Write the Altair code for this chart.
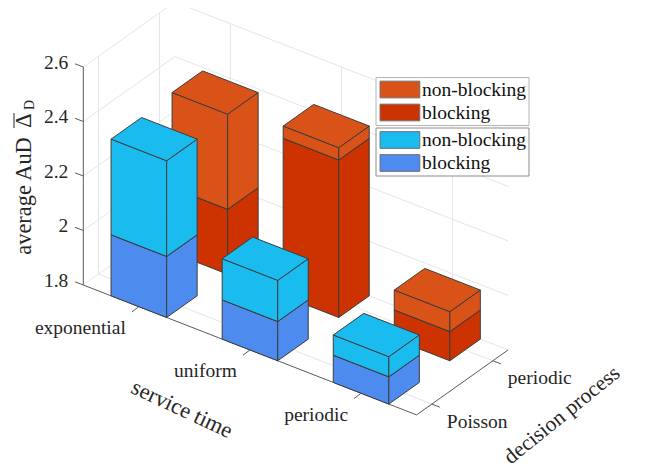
import altair as alt
import pandas as pd

service_times = ["exponential", "uniform", "periodic"]
decision_processes = ["Poisson", "periodic"]
z_ticks = [1.8, 2.0, 2.2, 2.4, 2.6]
z_tick_labels = ["1.8", "2", "2.2", "2.4", "2.6"]
blocking_poisson = [2.024, 1.944, 1.900]
total_poisson = [2.375, 2.095, 1.974]
blocking_periodic = [2.038, 2.378, 1.907]
total_periodic = [2.387, 2.423, 1.980]

Z0 = 1.8
FONT = "Liberation Serif"
EDGE = "#3c3c3c"
AXIS = "#5a5a5a"
GRID = "#e6e6e6"
TEXT = "#262626"
X_LIM = (0.5, 3.5)
Y_LIM = (0.75, 2.25)
BAR_HALF = 0.25


def proj(x, y, z):
    """Oblique projection of the 3-D axes box onto picture coordinates."""
    return (
        83.3 + (x - X_LIM[0]) * 111.1 + (y - Y_LIM[0]) * 61.0,
        285.0 + (x - X_LIM[0]) * 43.3 - (y - Y_LIM[0]) * 43.3 - (z - Z0) * 272.5,
    )


x_scale = alt.Scale(domain=[8, 637], range=[0, 629], nice=False, zero=False)
y_scale = alt.Scale(domain=[470, 8], range=[462, 0], nice=False, zero=False)
X = alt.X("px:Q", scale=x_scale, axis=None, title=None)
Y = alt.Y("py:Q", scale=y_scale, axis=None, title=None)


def segs(pairs):
    rows = []
    for i, (a, b) in enumerate(pairs):
        for j, p in enumerate((a, b)):
            rows.append({"id": i, "k": j, "px": p[0], "py": p[1]})
    return pd.DataFrame(rows)


def lines(pairs, color, width=1.0):
    return alt.Chart(segs(pairs)).mark_line(
        stroke=color, strokeWidth=width, clip=False
    ).encode(x=X, y=Y, detail="id:N", order="k:Q")


x0, x1 = X_LIM
y0, y1 = Y_LIM
z0, z1 = z_ticks[0], z_ticks[-1]
grid = []
for z in z_ticks:
    grid.append((proj(x0, y0, z), proj(x0, y1, z)))
    grid.append((proj(x0, y1, z), proj(x1, y1, z)))
for y in (1, 2):
    grid.append((proj(x0, y, z0), proj(x0, y, z1)))
    grid.append((proj(x0, y, z0), proj(x1, y, z0)))
for x in (1, 2, 3):
    grid.append((proj(x, y1, z0), proj(x, y1, z1)))
    grid.append((proj(x, y0, z0), proj(x, y1, z0)))

axes = [
    (proj(x0, y0, z0), proj(x0, y0, z1)),
    (proj(x0, y0, z0), proj(x1, y0, z0)),
    (proj(x1, y0, z0), proj(x1, y1, z0)),
]
for z in z_ticks:
    p = proj(x0, y0, z)
    axes.append((p, (p[0] - 8.3, p[1] - 3.2)))
for x in (1, 2, 3):
    p = proj(x, y0, z0)
    axes.append((p, (p[0] - 7.0, p[1] + 5.3)))
for y in (1, 2):
    p = proj(x1, y, z0)
    axes.append((p, (p[0] + 8.0, p[1] + 3.1)))


def bar_rows(xc, yc, lo, hi, series, start):
    xa, xb = xc - BAR_HALF, xc + BAR_HALF
    ya, yb = yc - BAR_HALF, yc + BAR_HALF
    faces = [
        [(xa, ya, lo), (xb, ya, lo), (xb, ya, hi), (xa, ya, hi)],
        [(xb, ya, lo), (xb, yb, lo), (xb, yb, hi), (xb, ya, hi)],
        [(xa, ya, hi), (xb, ya, hi), (xb, yb, hi), (xa, yb, hi)],
    ]
    rows = []
    for f, face in enumerate(faces):
        for k, v in enumerate(face + face[:1]):
            p = proj(*v)
            rows.append({"poly": start + f, "k": k, "px": p[0], "py": p[1], "series": series})
    return rows


def row_rows(yc, blocking, total):
    rows = []
    n = 0
    for i in range(3):
        rows += bar_rows(i + 1, yc, Z0, blocking[i], "blocking", n)
        rows += bar_rows(i + 1, yc, blocking[i], total[i], "non-blocking", n + 3)
        n += 6
    return pd.DataFrame(rows)


def bars(df, colors, lx, ly, box):
    return alt.Chart(df).mark_line(
        stroke=EDGE, strokeWidth=1, strokeJoin="miter", clip=False
    ).encode(
        x=X, y=Y, detail="poly:N", order="k:Q",
        fill=alt.Fill(
            "series:N",
            scale=alt.Scale(domain=["non-blocking", "blocking"], range=colors),
            legend=alt.Legend(
                title=None, orient="none", legendX=lx, legendY=ly,
                symbolType="M-0.8,-0.84H3.2V0.84H-0.8Z", symbolSize=395,
                symbolStrokeColor="#6e6e6e", symbolStrokeWidth=1, symbolOpacity=1,
                labelFont=FONT, labelFontSize=19.5, labelColor="#111111", labelOffset=23.5,
                labelExpr="datum.label + '\u2009'",
                labelLimit=200, rowPadding=2, padding=2,
                fillColor="white", strokeColor=box,
            ),
        ),
    )


def text(rows, align="center", angle=0, size=19.5):
    return alt.Chart(pd.DataFrame(rows)).mark_text(
        font=FONT, fontSize=size, color=TEXT, align=align, baseline="middle", angle=angle
    ).encode(x=X, y=Y, text="t:N")


z_labels = [
    {"t": t, "px": proj(x0, y0, z)[0] - 15, "py": proj(x0, y0, z)[1] - 4.5}
    for t, z in zip(z_tick_labels, z_ticks)
]
x_labels = [
    {"t": t, "px": proj(i + 1, y0, z0)[0] - 13, "py": proj(i + 1, y0, z0)[1] + 21.5}
    for i, t in enumerate(service_times)
]
y_labels = [
    {"t": t, "px": proj(x1, i + 1, z0)[0] + 15, "py": proj(x1, i + 1, z0)[1] + 17.5}
    for i, t in enumerate(decision_processes)
]

red = row_rows(2, blocking_periodic, total_periodic)
blue = row_rows(1, blocking_poisson, total_poisson)

chart = alt.layer(
    lines(grid, GRID),
    lines(axes, AXIS),
    bars(red, ["#d95319", "#cc3300"], 367.5, 69, "#b4b4b4"),
    bars(blue, ["#1abcf0", "#4d8cee"], 367.5, 119.5, "#8c8c8c"),
    text(z_labels, align="right"),
    text(x_labels, align="right"),
    text(y_labels, align="left"),
    text([{"t": "service time", "px": 182, "py": 409}], angle=25, size=22.4),
    text([{"t": "decision process", "px": 562.3, "py": 415.5}], angle=321, size=21.6),
    text([{"t": "average AuD", "px": 24, "py": 196}], angle=270, size=22.4),
    text([{"t": "\u0394", "px": 24, "py": 120.5}], angle=270, size=22.4),
    lines([((14, 128), (14, 113))], TEXT),
    text([{"t": "D", "px": 30, "py": 105}], angle=270, size=14),
).resolve_scale(fill="independent").properties(
    width=629, height=462, padding=0, autosize=alt.AutoSizeParams(type="none"),
).configure_view(stroke=None)

chart.save("out.html", embed_options={"renderer": "svg", "actions": False})
